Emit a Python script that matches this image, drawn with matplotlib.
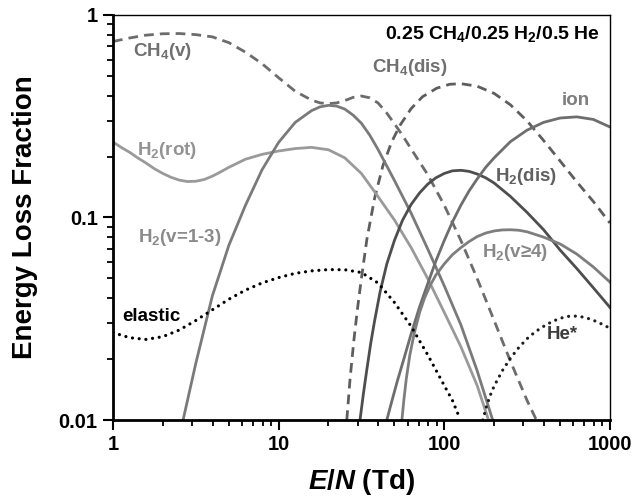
import matplotlib.pyplot as plt
from matplotlib.ticker import FixedLocator, NullFormatter, LogLocator

# Fonts: bold Arial-like everywhere, mathtext for subscripts
plt.rcParams['font.family'] = ['Liberation Sans', 'DejaVu Sans']
plt.rcParams['font.weight'] = 'bold'
plt.rcParams['mathtext.fontset'] = 'custom'
plt.rcParams['mathtext.rm'] = 'Liberation Sans:bold'
plt.rcParams['mathtext.bf'] = 'Liberation Sans:bold'
plt.rcParams['mathtext.it'] = 'Liberation Sans:bold:italic'
plt.rcParams['mathtext.default'] = 'bf'

# Energy loss fractions (E/N in Td)
ch4_v_x = [1, 1.26, 1.58, 2, 2.51, 3.16, 3.98, 5.01, 6.31, 7.94, 10, 12.6, 15.8, 17.8, 20,
           22.4, 25.1, 28.2, 31.6, 35.5, 39.8, 44.7, 50.1, 56.2, 63.1, 79.4, 100, 126,
           158, 200, 251, 316, 360]
ch4_v_y = [0.74, 0.77, 0.795, 0.808, 0.81, 0.80, 0.78, 0.73, 0.655, 0.575, 0.49, 0.42,
           0.38, 0.368, 0.365, 0.368, 0.378, 0.392, 0.398, 0.39, 0.368, 0.33, 0.29, 0.253,
           0.218, 0.163, 0.115, 0.077, 0.05, 0.031, 0.0195, 0.0125, 0.01]

ch4_dis_x = [25.8, 27, 28.5, 30, 31.6, 34.1, 38, 42.6, 48, 54, 63.1, 74, 90, 108, 126, 158,
             200, 251, 316, 398, 501, 631, 794, 1000]
ch4_dis_y = [0.01, 0.016, 0.025, 0.036, 0.05, 0.078, 0.125, 0.18, 0.235, 0.285, 0.345,
             0.395, 0.435, 0.455, 0.458, 0.445, 0.41, 0.36, 0.30, 0.24, 0.19, 0.15, 0.12,
             0.094]

h2_rot_x = [1, 1.12, 1.26, 1.41, 1.58, 1.78, 2, 2.24, 2.51, 2.82, 3.16, 3.55, 3.98, 4.47,
            5.01, 6.31, 7.94, 10, 12.6, 15.8, 20, 25.1, 31.6, 39.8, 50.1, 63.1, 79.4,
            100, 126, 158, 185]
h2_rot_y = [0.236, 0.222, 0.21, 0.197, 0.186, 0.174, 0.165, 0.158, 0.153, 0.1505, 0.151,
            0.154, 0.16, 0.168, 0.177, 0.194, 0.205, 0.213, 0.219, 0.222, 0.216, 0.197,
            0.165, 0.127, 0.097, 0.071, 0.05, 0.034, 0.023, 0.0148, 0.01]

h2_v13_x = [2.65, 3.16, 3.98, 5.01, 6.31, 7.94, 10, 12.6, 15.8, 17.8, 20, 22.4, 25.1, 28.2,
            31.6, 35.5, 39.8, 50.1, 63.1, 79.4, 100, 126, 158, 196]
h2_v13_y = [0.01, 0.019, 0.041, 0.073, 0.115, 0.172, 0.235, 0.295, 0.337, 0.352, 0.358,
            0.355, 0.343, 0.32, 0.292, 0.255, 0.217, 0.152, 0.105, 0.07, 0.046, 0.0295,
            0.0175, 0.01]

h2_dis_x = [31, 32.5, 34, 36, 38, 41, 45, 50, 56, 63.1, 70.8, 79.4, 89, 100, 112, 126, 141,
            158, 178, 200, 251, 316, 398, 501, 631, 794, 1000]
h2_dis_y = [0.01, 0.0135, 0.0175, 0.024, 0.031, 0.043, 0.059, 0.077, 0.097, 0.116, 0.132,
            0.146, 0.157, 0.165, 0.17, 0.171, 0.169, 0.164, 0.157, 0.148, 0.127, 0.106,
            0.087, 0.069, 0.056, 0.045, 0.036]

ion_x = [45, 48, 52, 57, 63, 70.8, 79.4, 89, 100, 112, 126, 141, 158, 178, 200, 251, 316,
         398, 501, 631, 794, 1000]
ion_y = [0.01, 0.0122, 0.0155, 0.02, 0.0265, 0.036, 0.047, 0.061, 0.077, 0.095, 0.115,
         0.135, 0.155, 0.177, 0.197, 0.237, 0.27, 0.295, 0.31, 0.314, 0.305, 0.28]

h2_v4_x = [55.5, 57, 59, 62, 66, 71, 76, 82, 89, 100, 112, 126, 141, 158, 178, 200, 224,
           251, 282, 316, 398, 501, 631, 794, 1000]
h2_v4_y = [0.01, 0.0125, 0.016, 0.021, 0.027, 0.034, 0.040, 0.046, 0.052, 0.059, 0.0655,
           0.071, 0.076, 0.0805, 0.0838, 0.0858, 0.0868, 0.087, 0.0865, 0.085, 0.080,
           0.074, 0.066, 0.057, 0.048]

elastic_x = [1, 1.26, 1.58, 2, 2.51, 3.16, 3.98, 5.01, 6.31, 7.94, 10, 12.6, 15.8, 20,
             25.1, 31.6, 39.8, 50.1, 63.1, 79.4, 100, 112, 124]
elastic_y = [0.027, 0.0255, 0.025, 0.0258, 0.0278, 0.031, 0.035, 0.0395, 0.0438, 0.0475,
             0.0505, 0.053, 0.0545, 0.0553, 0.0552, 0.0535, 0.0475, 0.038, 0.029, 0.021,
             0.0148, 0.0125, 0.0102]

he_x = [171, 180, 190, 200, 224, 251, 282, 316, 355, 398, 447, 501, 562, 631, 708, 794,
        891, 1000]
he_y = [0.01, 0.0117, 0.0133, 0.0147, 0.0175, 0.0202, 0.0228, 0.0252, 0.0273, 0.029,
        0.0306, 0.0318, 0.0325, 0.0326, 0.0321, 0.0311, 0.0298, 0.0284]

x_ticks = [1, 10, 100, 1000]
x_tick_labels = ['1', '10', '100', '1000']
y_ticks = [0.01, 0.1, 1]
y_tick_labels = ['0.01', '0.1', '1']

dashed = (0, (3.5, 2.2))
dotted = (0, (0.01, 2.1))


def plot_energy_loss():
    fig = plt.figure(figsize=(6.33, 5.0), dpi=100)
    ax = fig.add_axes([0.1785, 0.16, 0.785, 0.81])

    lw = 2.0
    ax.plot(ch4_v_x, ch4_v_y, color='#6c6c6c', lw=lw, ls=dashed)
    ax.plot(ch4_dis_x, ch4_dis_y, color='#5e5e5e', lw=lw, ls=dashed)
    ax.plot(h2_rot_x, h2_rot_y, color='#9a9a9a', lw=lw)
    ax.plot(h2_v13_x, h2_v13_y, color='#7a7a7a', lw=lw)
    ax.plot(h2_dis_x, h2_dis_y, color='#4e4e4e', lw=lw)
    ax.plot(ion_x, ion_y, color='#6e6e6e', lw=lw)
    ax.plot(h2_v4_x, h2_v4_y, color='#7e7e7e', lw=lw)
    ax.plot(elastic_x, elastic_y, color='black', lw=2.3, ls=dotted,
            dash_capstyle='round')
    ax.plot(he_x, he_y, color='#1e1e1e', lw=2.3, ls=dotted, dash_capstyle='round')

    ax.set_xscale('log')
    ax.set_yscale('log')
    ax.set_xlim(1, 1000)
    ax.set_ylim(0.01, 1)

    ax.xaxis.set_major_locator(FixedLocator(x_ticks))
    ax.set_xticklabels(x_tick_labels)
    ax.yaxis.set_major_locator(FixedLocator(y_ticks))
    ax.set_yticklabels(y_tick_labels)
    ax.xaxis.set_minor_locator(LogLocator(base=10, subs=range(2, 10)))
    ax.yaxis.set_minor_locator(LogLocator(base=10, subs=range(2, 10)))
    ax.xaxis.set_minor_formatter(NullFormatter())
    ax.yaxis.set_minor_formatter(NullFormatter())
    ax.tick_params(which='major', direction='out', length=7, width=1.5,
                   labelsize=14.5, pad=4)
    ax.tick_params(which='minor', direction='out', length=4, width=1.3)
    ax.tick_params(top=False, right=False, which='both')
    for lbl in ax.get_xticklabels() + ax.get_yticklabels():
        lbl.set_fontweight('bold')

    for side in ['left', 'bottom']:
        ax.spines[side].set_linewidth(2.0)
    for side in ['top', 'right']:
        ax.spines[side].set_linewidth(1.0)

    ax.set_xlabel(r'$\mathit{E/N}$ (Td)', fontsize=20, fontweight='bold', labelpad=9)
    ax.set_ylabel('Energy Loss Fraction', fontsize=20, fontweight='bold', labelpad=15)

    fs = 13.5
    ax.text(1.32, 0.657, r'CH$_4$(v)', color='#707070', fontsize=fs, va='center')
    ax.text(1.4, 0.215, r'H$_2$(rot)', color='#939393', fontsize=fs, va='center')
    ax.text(1.415, 0.080, r'H$_2$(v=1-3)', color='#8a8a8a', fontsize=fs, va='center')
    ax.text(1.13, 0.0326, 'elastic', color='black', fontsize=fs, va='center')
    ax.text(36.6, 0.553, r'CH$_4$(dis)', color='#707070', fontsize=fs, va='center')
    ax.text(511, 0.38, 'ion', color='#7e7e7e', fontsize=fs, va='center')
    ax.text(202, 0.16, r'H$_2$(dis)', color='#606060', fontsize=fs, va='center')
    ax.text(169, 0.0675, r'H$_2$(v≥4)', color='#888888', fontsize=fs, va='center')
    ax.text(416, 0.0263, 'He*', color='#3c3c3c', fontsize=fs, va='center')
    ax.text(0.98, 0.953, r'0.25 CH$_4$/0.25 H$_2$/0.5 He', transform=ax.transAxes,
            color='black', fontsize=14, ha='right', va='center')

    fig.savefig('out.png', dpi=100)


def main():
    plot_energy_loss()


if __name__ == "__main__":
    main()
